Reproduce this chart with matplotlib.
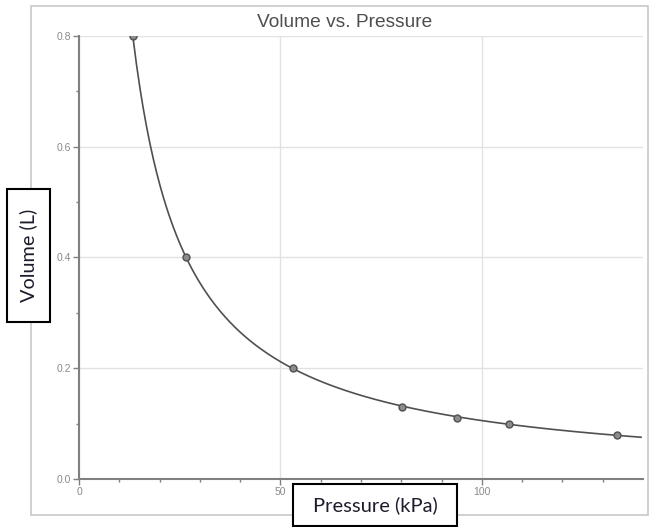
import numpy as np
import matplotlib
matplotlib.use("Agg")
import matplotlib.pyplot as plt
from matplotlib.patches import Rectangle

# values
pressure = [13.4, 26.6, 53.2, 80.1, 93.8, 106.7, 133.6]
volume = [0.80, 0.40, 0.20, 0.13, 0.11, 0.10, 0.08]
x_ticks = [0, 50, 100]
y_ticks = [0.0, 0.2, 0.4, 0.6, 0.8]

fig = plt.figure(figsize=(6.54, 5.27), dpi=100)

# light outer frame around the graph
fig.patches.append(Rectangle((0.0474, 0.0228), 0.9434, 0.9658, transform=fig.transFigure,
                             fill=False, edgecolor="#c8c8c8", linewidth=1.2))

ax = fig.add_axes([0.1208, 0.0911, 0.8624, 0.8406])

# power fit through the measured points
k, logc = np.polyfit(np.log(pressure), np.log(volume), 1)
xs = np.linspace(pressure[0], 139.5, 300)
ax.plot(xs, np.exp(logc) * xs ** k, color="#505050", linewidth=1.2, zorder=3)
ax.plot(pressure, volume, "o", markersize=5, markerfacecolor="#8c8c8c",
        markeredgecolor="#505050", markeredgewidth=1, zorder=4)

ax.set_xlim(0, 140)
ax.set_ylim(0, 0.8)
ax.set_xticks(x_ticks)
ax.set_yticks(y_ticks)
ax.set_xticks(np.arange(10, 140, 10), minor=True)
ax.set_yticks([0.1, 0.3, 0.5, 0.7], minor=True)
ax.set_xticklabels([str(t) for t in x_ticks])
ax.set_yticklabels([f"{t:.1f}" for t in y_ticks])
ax.tick_params(axis="both", which="major", length=4, width=1, color="#808080",
               labelsize=7.5, labelcolor="#8a8a8a", pad=2)
ax.tick_params(axis="both", which="minor", length=2, width=1, color="#808080")
for lab in ax.get_xticklabels() + ax.get_yticklabels():
    lab.set_family("Liberation Sans")

ax.grid(True, which="major", color="#e2e2e2", linewidth=1)
ax.set_axisbelow(True)
for side in ["top", "right"]:
    ax.spines[side].set_visible(False)
for side in ["left", "bottom"]:
    ax.spines[side].set_color("#808080")
    ax.spines[side].set_linewidth(1.5)

fig.text(0.5275, 0.958, "Volume vs. Pressure", ha="center", va="center",
         fontsize=13.8, color="#4e4e4e", family="Liberation Sans")

# boxed axis labels
fig.patches.append(Rectangle((0.0107, 0.3890), 0.0657, 0.2524, transform=fig.transFigure,
                             facecolor="white", edgecolor="black", linewidth=1.5, zorder=5))
fig.text(0.0436, 0.5152, "Volume (L)", rotation=90, ha="center", va="center",
         fontsize=14.3, color="#1c1c2c", family="Lato", zorder=6)
fig.patches.append(Rectangle((0.4480, 0.0019), 0.2508, 0.0797, transform=fig.transFigure,
                             facecolor="white", edgecolor="black", linewidth=1.5, zorder=5))
fig.text(0.5734, 0.0417, "Pressure (kPa)", ha="center", va="center",
         fontsize=14.5, color="#1c1c2c", family="Lato", zorder=6)

fig.savefig("out.png", dpi=100)
